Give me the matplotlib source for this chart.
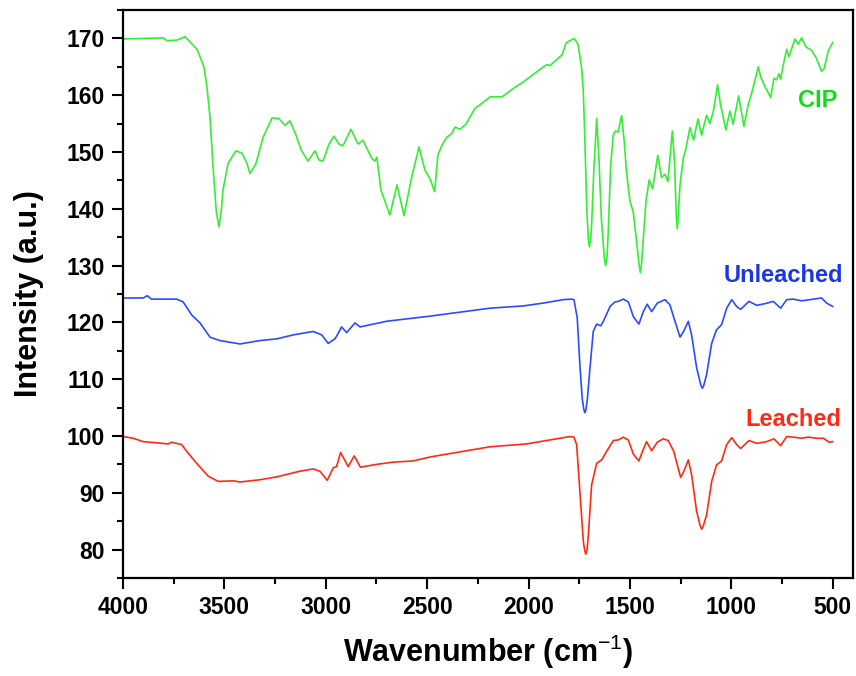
import matplotlib
matplotlib.use("Agg")
import matplotlib.pyplot as plt
from matplotlib.ticker import MultipleLocator

# ---- data (wavenumber cm^-1, intensity a.u.) ----
cip_wn = [4000, 3900, 3803, 3783, 3734, 3694, 3635, 3601, 3586, 3571, 3556, 3540, 3527, 3515, 3507, 3482,
          3443, 3413, 3389, 3374, 3344, 3310, 3265, 3231, 3201, 3177, 3147, 3122, 3088, 3053,
          3034, 3014, 2984, 2960, 2935, 2915, 2876, 2841, 2817, 2772, 2758, 2748, 2728, 2684,
          2649, 2614, 2580, 2540, 2511, 2486, 2463, 2447, 2427, 2403, 2380, 2363, 2338, 2309,
          2264, 2240, 2190, 2131, 2067, 2027, 1968, 1934, 1909, 1894, 1870, 1835, 1815, 1776,
          1761, 1755, 1738, 1730, 1722, 1713, 1705, 1700, 1694, 1689, 1677, 1664, 1653, 1641, 1626, 1620, 1613, 1607,
          1595, 1582, 1572, 1559, 1541, 1528, 1517, 1500, 1484, 1467, 1455, 1449, 1442, 1434, 1421, 1405,
          1388, 1363, 1344, 1327, 1313, 1291, 1281, 1271, 1267, 1262, 1253, 1237, 1224, 1204, 1186, 1165,
          1147, 1122, 1106, 1089, 1068, 1053, 1027, 1007, 991, 964, 938, 917, 900, 867, 855,
          834, 806, 790, 777, 765, 757, 744, 727, 716, 686, 670, 653, 632, 604, 580, 555, 542,
          522, 500]
cip_int = [169.9, 170.0, 170.1, 169.6, 169.7, 170.3, 168.1, 165.0, 161.4, 156.2, 147.4, 139.5, 136.8, 139.8, 143.3, 148.0,
           150.2, 149.8, 148.0, 146.2, 148.0, 152.5, 156.0, 155.9, 154.7, 155.5, 153.0, 150.4, 148.4, 150.2,
           148.6, 148.4, 151.4, 152.8, 151.4, 151.1, 154.0, 151.4, 152.1, 148.8, 148.4, 149.1, 143.3, 138.9,
           144.2, 138.8, 145.0, 150.9, 146.8, 145.3, 143.0, 149.5, 151.2, 152.6, 153.2, 154.4, 154.0, 154.9,
           157.7, 158.3, 159.7, 159.7, 161.4, 162.3, 163.9, 164.8, 165.4, 165.2, 166.0, 167.1, 169.2, 170.0,
           169.3, 168.8, 164.7, 160.6, 151.8, 140.1, 134.5, 133.3, 134.5, 137.2, 147.7, 155.9, 148.9, 138.3, 131.2, 130.0, 131.5, 136.0,
           147.7, 153.0, 153.7, 153.5, 156.4, 151.8, 146.5, 141.3, 139.5, 134.2, 130.2, 128.8, 130.5, 134.8, 141.3, 145.1,
           143.5, 149.4, 145.5, 146.1, 144.8, 153.7, 148.9, 138.5, 136.5, 138.5, 144.2, 148.9, 150.6, 154.3, 152.1, 155.8,
           153.0, 156.5, 155.0, 157.1, 161.8, 158.3, 153.9, 157.2, 154.9, 159.9, 154.5, 158.3, 160.3, 165.0, 163.2,
           161.5, 159.6, 163.0, 162.7, 163.8, 162.8, 165.3, 168.1, 166.8, 169.9, 169.0, 170.1, 168.5, 167.9, 166.5, 164.2, 164.7,
           167.8, 169.3]

unl_wn = [4000, 3900, 3880, 3860, 3735, 3703, 3661, 3620, 3571, 3522, 3423, 3324, 3242, 3160,
          3062, 3020, 2988, 2955, 2938, 2922, 2897, 2856, 2831, 2700, 2486, 2190, 2026, 1927,
          1829, 1790, 1776, 1760, 1746, 1735, 1727, 1722, 1717, 1710, 1697, 1681, 1664, 1644, 1631, 1598,
          1574, 1557, 1533, 1508, 1483, 1456, 1434, 1415, 1393, 1365, 1327, 1303, 1278, 1253,
          1234, 1212, 1196, 1171, 1150, 1143, 1136, 1122, 1097, 1073, 1048, 1023, 998, 974, 954, 913, 875,
          834, 793, 757, 727, 695, 653, 613, 555, 530, 500]
unl_int = [124.3, 124.3, 124.7, 124.1, 124.1, 123.6, 121.3, 119.9, 117.4, 116.8, 116.2, 116.8, 117.1, 117.8,
           118.4, 117.8, 116.3, 117.1, 118.1, 119.2, 118.2, 119.9, 119.2, 120.2, 121.1, 122.5, 122.9, 123.4,
           124.0, 124.1, 124.0, 120.8, 112.0, 106.5, 104.6, 104.1, 104.6, 106.5, 112.0, 118.4, 119.7, 119.4, 120.2, 122.8,
           123.6, 123.7, 124.1, 123.6, 121.0, 119.7, 121.9, 123.2, 121.9, 123.4, 124.0, 123.1, 120.2, 117.4,
           118.5, 120.2, 117.8, 112.0, 108.9, 108.4, 108.9, 110.8, 116.3, 118.7, 119.6, 122.5, 124.0, 122.8, 122.3, 123.7, 123.0,
           123.3, 123.7, 122.5, 124.0, 124.1, 123.8, 124.0, 124.3, 123.4, 122.8]

lea_wn = [4000, 3949, 3900, 3834, 3777, 3761, 3711, 3686, 3637, 3579, 3530, 3456, 3423, 3324,
          3242, 3127, 3062, 3029, 2993, 2963, 2947, 2927, 2889, 2860, 2829, 2750, 2667, 2569,
          2486, 2322, 2190, 2009, 1911, 1796, 1776, 1763, 1747, 1730, 1723, 1718, 1712, 1705, 1689, 1664,
          1639, 1615, 1582, 1557, 1533, 1508, 1483, 1456, 1438, 1418, 1393, 1365, 1336, 1311,
          1284, 1250, 1234, 1212, 1196, 1171, 1153, 1146, 1139, 1122, 1097, 1073, 1048, 1023, 998, 974, 954,
          913, 875, 826, 790, 757, 727, 695, 653, 620, 580, 547, 517, 500]
lea_int = [99.9, 99.6, 99.0, 98.8, 98.6, 98.9, 98.5, 97.3, 95.2, 92.9, 92.0, 92.1, 91.9, 92.3,
           92.8, 93.8, 94.2, 93.8, 92.2, 94.4, 94.6, 97.1, 94.6, 96.5, 94.5, 95.0, 95.4, 95.6,
           96.3, 97.3, 98.1, 98.6, 99.2, 99.9, 99.8, 98.5, 90.3, 81.5, 79.8, 79.2, 79.8, 82.6, 91.4, 95.2,
           95.8, 97.3, 99.2, 99.3, 99.8, 99.3, 96.8, 95.6, 97.3, 99.0, 97.4, 98.9, 99.5, 99.2,
           97.3, 92.7, 93.8, 95.8, 93.2, 86.7, 84.1, 83.6, 84.1, 86.1, 92.0, 94.9, 95.6, 98.5, 99.7, 98.5, 97.8,
           99.2, 98.7, 99.0, 99.5, 98.3, 99.9, 99.8, 99.6, 99.8, 99.6, 99.6, 98.9, 99.0]

series_labels = ["CIP", "Unleached", "Leached"]
x_ticks = [4000, 3500, 3000, 2500, 2000, 1500, 1000, 500]
y_ticks = [80, 90, 100, 110, 120, 130, 140, 150, 160, 170]

# ---- style ----
plt.rcParams['font.family'] = ['Liberation Sans', 'DejaVu Sans']
plt.rcParams['mathtext.fontset'] = 'custom'
plt.rcParams['mathtext.rm'] = 'Liberation Sans'
c_cip = '#33ee33'
c_unl = '#2a4cff'
c_lea = '#ff2a12'
c_cip_txt = '#10dd10'
c_unl_txt = '#1a36e8'
c_lea_txt = '#ff2a12'

fig = plt.figure(figsize=(8.56, 6.76), dpi=100)
ax = fig.add_axes([0.1437, 0.1450, 0.8528, 0.8402])

ax.plot(cip_wn, cip_int, color=c_cip, lw=1.2)
ax.plot(unl_wn, unl_int, color=c_unl, lw=1.2)
ax.plot(lea_wn, lea_int, color=c_lea, lw=1.2)

ax.set_xlim(4000, 400)
ax.set_ylim(75, 175)
ax.set_xticks(x_ticks)
ax.set_yticks(y_ticks)
ax.xaxis.set_minor_locator(MultipleLocator(250))
ax.yaxis.set_minor_locator(MultipleLocator(5))
ax.tick_params(which='major', direction='out', length=8, width=1.5, labelsize=16.5, pad=5)
ax.tick_params(which='minor', direction='out', length=4.5, width=1.5)
ax.tick_params(top=False, right=False, which='both')
for lab in ax.get_xticklabels() + ax.get_yticklabels():
    lab.set_fontweight('bold')
for sp in ax.spines.values():
    sp.set_linewidth(1.6)

ax.set_xlabel('Wavenumber (cm$^{\\mathrm{-1}}$)', fontsize=22, fontweight='bold', labelpad=10)
ax.set_ylabel('Intensity (a.u.)', fontsize=22, fontweight='bold', labelpad=16)

ax.text(573, 159.1, series_labels[0], color=c_cip_txt, fontsize=17, fontweight='bold',
        ha='center', va='center')
ax.text(741, 128.2, series_labels[1], color=c_unl_txt, fontsize=17, fontweight='bold',
        ha='center', va='center')
ax.text(696, 102.9, series_labels[2], color=c_lea_txt, fontsize=17, fontweight='bold',
        ha='center', va='center')

fig.savefig('out.png', dpi=100)
